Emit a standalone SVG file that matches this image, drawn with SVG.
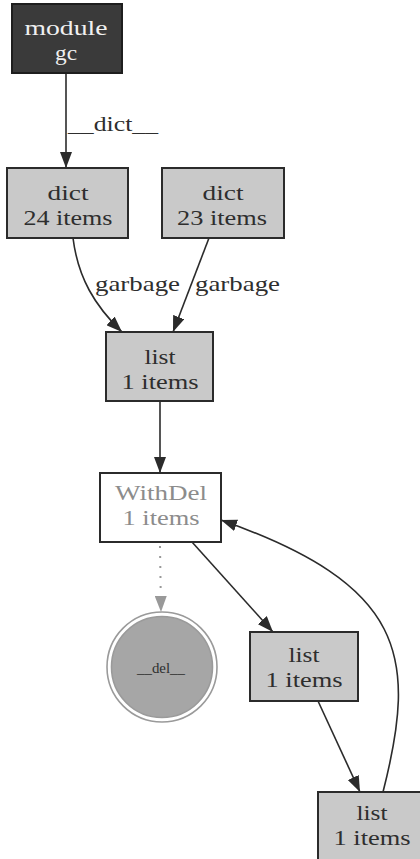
<svg xmlns="http://www.w3.org/2000/svg" width="420" height="859" viewBox="0 0 420 859">
  <style>
    text { font-family: "Liberation Serif", "DejaVu Serif", serif; font-size: 22px; text-anchor: middle; fill: #2e2e2e; }
    .box { fill: #c9c9c9; stroke: #2b2b2b; stroke-width: 2; }
    .dark { fill: #3a3a3a; stroke: #1e1e1e; stroke-width: 2; }
    .plain { fill: #ffffff; stroke: #2b2b2b; stroke-width: 2; }
    .light { fill: #f0f0f0; }
    .faded { fill: #8c8c8c; }
    .edge { fill: none; stroke: #2b2b2b; stroke-width: 1.6; marker-end: url(#arr); }
    .dotted { fill: none; stroke: #999999; stroke-width: 2; stroke-dasharray: 2 8; marker-end: url(#arrGray); }
    .lbl { text-anchor: start; }
    .small { font-size: 15px; }
  </style>
  <defs>
    <marker id="arr" markerUnits="userSpaceOnUse" markerWidth="16" markerHeight="12" refX="16" refY="6" orient="auto">
      <path d="M0,0 L16,6 L0,12 z" fill="#2b2b2b"/>
    </marker>
    <marker id="arrGray" markerUnits="userSpaceOnUse" markerWidth="16" markerHeight="12" refX="16" refY="6" orient="auto">
      <path d="M0,0 L16,6 L0,12 z" fill="#999999"/>
    </marker>
  </defs>

  <rect width="420" height="859" fill="#ffffff"/>

  <!-- connectors -->
  <g id="edges">
    <path class="edge" d="M66,73 L66,168"/>
    <text class="lbl" x="68" y="131" textLength="90" lengthAdjust="spacingAndGlyphs">__dict__</text>
    <path class="edge" d="M73,238 C78,278 95,306 122,332"/>
    <text class="lbl" x="95" y="291" textLength="85" lengthAdjust="spacingAndGlyphs">garbage</text>
    <path class="edge" d="M209,238 L173,332"/>
    <text class="lbl" x="195" y="291" textLength="85" lengthAdjust="spacingAndGlyphs">garbage</text>
    <path class="edge" d="M160,401 L160,473"/>
    <path class="dotted" d="M160,546 L161,612"/>
    <path class="edge" d="M192,542 L273,632"/>
    <path class="edge" d="M318,701 L360,792"/>
    <path class="edge" d="M383,792 C418,655 405,585 221,520"/>
  </g>

  <!-- nodes -->
  <g id="module_gc">
    <rect class="dark" x="12" y="4" width="110" height="69"/>
    <text class="light" x="66" y="35" textLength="83" lengthAdjust="spacingAndGlyphs">module</text>
    <text class="light" x="66" y="60" textLength="22" lengthAdjust="spacingAndGlyphs">gc</text>
  </g>

  <g id="dict24">
    <rect class="box" x="7" y="168" width="121" height="70"/>
    <text x="68" y="200" textLength="41" lengthAdjust="spacingAndGlyphs">dict</text>
    <text x="68" y="225" textLength="89" lengthAdjust="spacingAndGlyphs">24 items</text>
  </g>

  <g id="dict23">
    <rect class="box" x="162" y="168" width="122" height="70"/>
    <text x="223" y="200" textLength="41" lengthAdjust="spacingAndGlyphs">dict</text>
    <text x="222" y="225" textLength="90" lengthAdjust="spacingAndGlyphs">23 items</text>
  </g>

  <g id="list1">
    <rect class="box" x="106" y="332" width="107" height="69"/>
    <text x="160" y="364" textLength="31" lengthAdjust="spacingAndGlyphs">list</text>
    <text x="160" y="389" textLength="77" lengthAdjust="spacingAndGlyphs">1 items</text>
  </g>

  <g id="withdel">
    <rect class="plain" x="100" y="473" width="121" height="69"/>
    <text class="faded" x="161" y="500" textLength="92" lengthAdjust="spacingAndGlyphs">WithDel</text>
    <text class="faded" x="161" y="525" textLength="77" lengthAdjust="spacingAndGlyphs">1 items</text>
  </g>

  <g id="del">
    <circle cx="162" cy="667" r="55" fill="none" stroke="#9a9a9a" stroke-width="1.6"/>
    <circle cx="162" cy="667" r="50.5" fill="#a6a6a6" stroke="#9a9a9a" stroke-width="1.6"/>
    <text class="small" x="161" y="673" textLength="48" lengthAdjust="spacingAndGlyphs">__del__</text>
  </g>

  <g id="list2">
    <rect class="box" x="250" y="632" width="108" height="69"/>
    <text x="304" y="662" textLength="31" lengthAdjust="spacingAndGlyphs">list</text>
    <text x="304" y="687" textLength="77" lengthAdjust="spacingAndGlyphs">1 items</text>
  </g>

  <g id="list3">
    <rect class="box" x="318" y="792" width="108" height="70"/>
    <text x="372" y="820" textLength="31" lengthAdjust="spacingAndGlyphs">list</text>
    <text x="372" y="845" textLength="77" lengthAdjust="spacingAndGlyphs">1 items</text>
  </g>
</svg>
